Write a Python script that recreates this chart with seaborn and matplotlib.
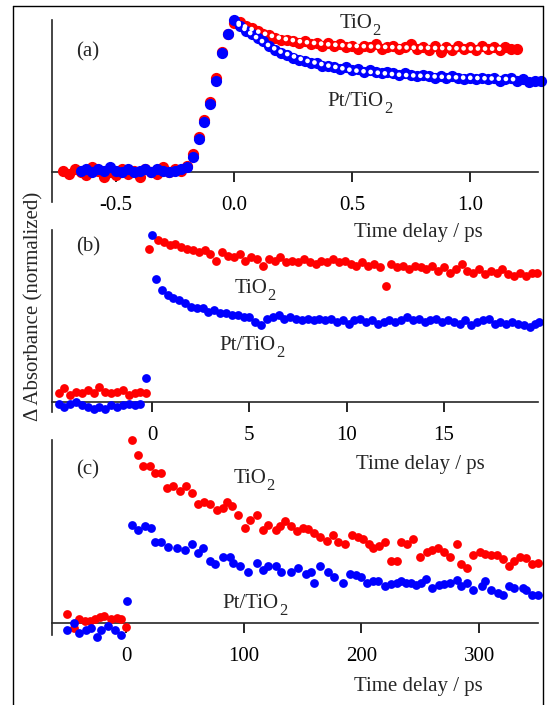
import numpy as np
import pandas as pd
import matplotlib
matplotlib.use("Agg")
import matplotlib.pyplot as plt
import seaborn as sns
from matplotlib.lines import Line2D

# ---- panel (a): sub-ps rise and decay ----
tio2_a_t = [-0.725, -0.7, -0.675, -0.65, -0.625, -0.6, -0.575, -0.55, -0.525, -0.5,
            -0.475, -0.45, -0.425, -0.4, -0.375, -0.35, -0.325, -0.3, -0.275, -0.25,
            -0.225, -0.2, -0.175, -0.15, -0.125, -0.1, -0.075, -0.05, -0.025, 0.0,
            0.025, 0.05, 0.075, 0.1, 0.125, 0.15, 0.175, 0.2, 0.225, 0.25,
            0.275, 0.3, 0.325, 0.35, 0.375, 0.4, 0.425, 0.45, 0.475, 0.5,
            0.525, 0.55, 0.575, 0.6, 0.625, 0.65, 0.675, 0.7, 0.725, 0.75,
            0.775, 0.8, 0.825, 0.85, 0.875, 0.9, 0.925, 0.95, 0.975, 1.0,
            1.025, 1.05, 1.075, 1.1, 1.125, 1.15, 1.175, 1.2]
tio2_a_y = [0.01, -0.01, 0.02, 0.00, -0.02, 0.03, 0.01, -0.03, 0.00, -0.02,
            0.02, -0.01, 0.01, -0.03, 0.02, 0.00, -0.01, 0.03, 0.00, 0.02,
            0.01, 0.04, 0.12, 0.23, 0.34, 0.46, 0.62, 0.79, 0.91, 0.98,
            0.99, 0.96, 0.95, 0.93, 0.91, 0.90, 0.88, 0.87, 0.87, 0.86,
            0.85, 0.86, 0.84, 0.85, 0.83, 0.85, 0.83, 0.84, 0.82, 0.83,
            0.81, 0.83, 0.82, 0.84, 0.81, 0.82, 0.83, 0.81, 0.82, 0.84,
            0.81, 0.82, 0.80, 0.83, 0.79, 0.82, 0.80, 0.83, 0.81, 0.82,
            0.80, 0.83, 0.81, 0.82, 0.80, 0.82, 0.81, 0.81]
pt_a_t = [-0.65, -0.625, -0.6, -0.575, -0.55, -0.525, -0.5, -0.475, -0.45, -0.425,
          -0.4, -0.375, -0.35, -0.325, -0.3, -0.275, -0.25, -0.225,
          -0.2, -0.175, -0.15, -0.125, -0.1, -0.075, -0.05, -0.025, 0.0,
          0.025, 0.05, 0.075, 0.1, 0.125, 0.15, 0.175, 0.2, 0.225, 0.25,
          0.275, 0.3, 0.325, 0.35, 0.375, 0.4, 0.425, 0.45, 0.475, 0.5,
          0.525, 0.55, 0.575, 0.6, 0.625, 0.65, 0.675, 0.7, 0.725, 0.75,
          0.775, 0.8, 0.825, 0.85, 0.875, 0.9, 0.925, 0.95, 0.975, 1.0,
          1.025, 1.05, 1.075, 1.1, 1.125, 1.15, 1.175, 1.2, 1.225, 1.25,
          1.275, 1.3]
pt_a_y = [0.01, 0.02, 0.00, 0.02, 0.01, 0.03, 0.01, 0.00, 0.02, 0.00,
          0.01, 0.02, 0.00, 0.02, 0.01, 0.00, 0.01, 0.02,
          0.03, 0.10, 0.22, 0.33, 0.45, 0.60, 0.78, 0.91, 1.00,
          0.96, 0.93, 0.91, 0.88, 0.86, 0.83, 0.80, 0.78, 0.77, 0.75,
          0.74, 0.73, 0.72, 0.72, 0.70, 0.70, 0.69, 0.68, 0.69, 0.67,
          0.68, 0.66, 0.67, 0.66, 0.65, 0.66, 0.65, 0.64, 0.65, 0.64,
          0.63, 0.64, 0.63, 0.62, 0.63, 0.62, 0.63, 0.62, 0.61, 0.62,
          0.61, 0.62, 0.61, 0.62, 0.60, 0.61, 0.62, 0.60, 0.61, 0.59,
          0.60, 0.60]
# fitted curves (white dotted)
tio2_fit_t = [0.02, 0.05, 0.1, 0.15, 0.2, 0.3, 0.4, 0.5, 0.7, 0.9, 1.15]
tio2_fit_y = [0.98, 0.955, 0.925, 0.90, 0.88, 0.855, 0.84, 0.83, 0.82, 0.815, 0.81]
pt_fit_t = [0.02, 0.05, 0.1, 0.15, 0.2, 0.3, 0.4, 0.5, 0.7, 0.9, 1.2]
pt_fit_y = [0.97, 0.935, 0.88, 0.83, 0.79, 0.735, 0.70, 0.67, 0.64, 0.625, 0.61]

# ---- panel (b): 0-20 ps ----
tio2_b_t = [-4.8, -4.5, -4.2, -3.9, -3.6, -3.3, -3.0, -2.7, -2.4, -2.1, -1.8, -1.5,
            -1.2, -0.9, -0.6, -0.3, -0.15,
            0.3, 0.6, 0.9, 1.2, 1.5, 1.8, 2.1, 2.4, 2.7, 3.0,
            3.3, 3.6, 3.9, 4.2, 4.5, 4.8, 5.1, 5.4, 5.7, 6.0,
            6.3, 6.6, 6.9, 7.2, 7.5, 7.8, 8.1, 8.4, 8.7, 9.0,
            9.3, 9.6, 9.9, 10.2, 10.5, 10.8, 11.1, 11.4, 11.7, 12.0,
            12.3, 12.6, 12.9, 13.2, 13.5, 13.8, 14.1, 14.4, 14.7, 15.0,
            15.3, 15.6, 15.9, 16.2, 16.5, 16.8, 17.1, 17.4, 17.7, 18.0,
            18.3, 18.6, 18.9, 19.2, 19.5, 19.8]
tio2_b_y = [0.05, 0.08, 0.04, 0.06, 0.05, 0.07, 0.05, 0.09, 0.06, 0.05, 0.06, 0.07,
            0.04, 0.05, 0.06, 0.05, 0.90,
            0.95, 0.94, 0.92, 0.93, 0.91, 0.90, 0.89, 0.88, 0.89, 0.87,
            0.83, 0.88, 0.86, 0.85, 0.87, 0.83, 0.85, 0.84, 0.80, 0.84,
            0.83, 0.85, 0.82, 0.83, 0.82, 0.84, 0.82, 0.81, 0.83, 0.82,
            0.84, 0.82, 0.83, 0.81, 0.80, 0.82, 0.80, 0.81, 0.79, 0.68,
            0.81, 0.79, 0.80, 0.78, 0.80, 0.79, 0.78, 0.80, 0.77, 0.79,
            0.76, 0.78, 0.81, 0.77, 0.76, 0.78, 0.75, 0.77, 0.76, 0.78,
            0.75, 0.74, 0.76, 0.74, 0.76, 0.76]
pt_b_t = [-4.8, -4.5, -4.2, -3.9, -3.6, -3.3, -3.0, -2.7, -2.4, -2.1, -1.8, -1.5,
          -1.2, -0.9, -0.6, -0.3,
          0.0, 0.2, 0.5, 0.8, 1.1, 1.4, 1.7, 2.0, 2.3, 2.6,
          2.9, 3.2, 3.5, 3.8, 4.1, 4.4, 4.7, 5.0, 5.3, 5.6,
          5.9, 6.2, 6.5, 6.8, 7.1, 7.4, 7.7, 8.0, 8.3, 8.6,
          8.9, 9.2, 9.5, 9.8, 10.1, 10.4, 10.7, 11.0, 11.3, 11.6,
          11.9, 12.2, 12.5, 12.8, 13.1, 13.4, 13.7, 14.0, 14.3, 14.6,
          14.9, 15.2, 15.5, 15.8, 16.1, 16.4, 16.7, 17.0, 17.3, 17.6,
          17.9, 18.2, 18.5, 18.8, 19.1, 19.4, 19.7, 19.9]
pt_b_y = [-0.01, -0.03, -0.01, 0.00, -0.02, -0.03, -0.04, -0.03, -0.04, -0.02, -0.03, -0.02,
          -0.01, -0.02, -0.01, 0.14,
          0.98, 0.72, 0.66, 0.63, 0.61, 0.60, 0.58, 0.56, 0.55, 0.55,
          0.53, 0.54, 0.52, 0.52, 0.51, 0.51, 0.50, 0.50, 0.47, 0.45,
          0.49, 0.50, 0.51, 0.49, 0.50, 0.49, 0.48, 0.49, 0.48, 0.49,
          0.48, 0.49, 0.47, 0.48, 0.46, 0.48, 0.49, 0.47, 0.48, 0.46,
          0.47, 0.48, 0.47, 0.48, 0.50, 0.48, 0.49, 0.47, 0.48, 0.49,
          0.47, 0.48, 0.47, 0.46, 0.48, 0.45, 0.47, 0.48, 0.49, 0.46,
          0.47, 0.46, 0.47, 0.46, 0.45, 0.44, 0.46, 0.47]

# ---- panel (c): 0-350 ps ----
tio2_c_t = [-50, -44, -40, -35, -31, -26, -22, -19, -13, -8, -4, 0,
            5, 10, 14, 20, 25, 30, 35, 40, 46, 51,
            56, 61, 66, 71, 77, 82, 86, 90, 95, 101,
            105, 111, 116, 121, 127, 131, 135, 140, 145, 150,
            155, 160, 165, 171, 176, 180, 186, 192, 197, 201,
            206, 210, 215, 220, 225, 230, 234, 239, 244, 250,
            256, 260, 265, 270, 275, 281, 285, 290, 295, 301,
            305, 310, 315, 320, 325, 330, 335, 340, 345, 350]
tio2_c_y = [0.05, -0.03, 0.02, 0.01, 0.01, 0.02, 0.03, 0.04, 0.02, 0.025, 0.02, -0.02,
            1.0, 0.92, 0.86, 0.86, 0.82, 0.82, 0.74, 0.75, 0.72, 0.75,
            0.71, 0.65, 0.66, 0.65, 0.62, 0.63, 0.66, 0.64, 0.59, 0.52,
            0.56, 0.59, 0.51, 0.535, 0.51, 0.53, 0.555, 0.53, 0.50, 0.52,
            0.515, 0.49, 0.47, 0.45, 0.48, 0.44, 0.43, 0.48, 0.47, 0.46,
            0.43, 0.41, 0.42, 0.44, 0.34, 0.34, 0.44, 0.43, 0.46, 0.36,
            0.39, 0.40, 0.41, 0.39, 0.36, 0.43, 0.32, 0.30, 0.37, 0.39,
            0.375, 0.37, 0.37, 0.35, 0.31, 0.34, 0.36, 0.355, 0.32, 0.33]
pt_c_t = [-50, -44, -40, -34, -30, -25, -21, -15, -9, -4, 1,
          5, 10, 16, 21, 25, 30, 36, 43, 50, 56,
          61, 65, 71, 76, 82, 88, 91, 97, 104, 111,
          116, 121, 127, 132, 140, 146, 153, 157, 160, 165,
          172, 177, 184, 190, 195, 200, 205, 210, 214, 220,
          225, 230, 234, 238, 242, 246, 251, 255, 260, 266,
          270, 275, 281, 285, 290, 295, 302, 305, 310, 316,
          320, 325, 330, 337, 340, 345, 350]
pt_c_y = [-0.04, 0.0, -0.055, -0.04, -0.03, -0.075, -0.04, -0.015, -0.04, -0.065, 0.12,
          0.535, 0.51, 0.53, 0.52, 0.44, 0.44, 0.415, 0.41, 0.40, 0.43,
          0.38, 0.41, 0.34, 0.32, 0.36, 0.36, 0.33, 0.31, 0.28, 0.33,
          0.29, 0.31, 0.31, 0.28, 0.28, 0.30, 0.27, 0.28, 0.22, 0.31,
          0.28, 0.25, 0.22, 0.27, 0.26, 0.25, 0.22, 0.23, 0.23, 0.20,
          0.215, 0.22, 0.23, 0.22, 0.22, 0.21, 0.22, 0.24, 0.19, 0.21,
          0.215, 0.22, 0.235, 0.20, 0.22, 0.18, 0.20, 0.23, 0.18, 0.165,
          0.155, 0.20, 0.19, 0.19, 0.18, 0.155, 0.155]

ticks_a = [-0.5, 0.0, 0.5, 1.0]
ticklabels_a = ["-0.5", "0.0", "0.5", "1.0"]
ticks_b = [0, 5, 10, 15]
ticks_c = [0, 100, 200, 300]

RED = "#ff0000"
BLUE = "#0000ff"
FS = 15

sns.set_style("ticks")
plt.rcParams["font.family"] = ["Liberation Serif", "DejaVu Serif"]
plt.rcParams["axes.unicode_minus"] = False

W, H = 550, 705
fig = plt.figure(figsize=(W / 100, H / 100), dpi=100)


def add_ax(left, right, top, bottom):
    # pixel box -> figure fraction
    return fig.add_axes([left / W, 1 - bottom / H, (right - left) / W, (bottom - top) / H])


def style(ax, xlim, ylim, ticks, labels=None):
    ax.set_xlim(xlim)
    ax.set_ylim(ylim)
    ax.spines["top"].set_visible(False)
    ax.spines["right"].set_visible(False)
    ax.spines["bottom"].set_position(("data", 0))
    ax.spines["left"].set_linewidth(1.2)
    ax.spines["bottom"].set_linewidth(1.2)
    ax.set_yticks([])
    ax.set_xticks(ticks)
    if labels is not None:
        ax.set_xticklabels(labels)
    ax.tick_params(axis="x", direction="out", length=7, width=1.2, pad=10,
                   labelsize=FS, colors="black")
    ax.set_xlabel("")
    ax.set_ylabel("")
    ax.patch.set_alpha(0)


def dots(ax, t, y, color, s):
    sns.scatterplot(x=t, y=y, color=color, s=s, linewidth=0, ax=ax,
                    zorder=3, clip_on=False, legend=False)


ax_a = add_ax(52, 538, 20, 202)
dots(ax_a, tio2_a_t, tio2_a_y, RED, 65)
dots(ax_a, pt_a_t, pt_a_y, BLUE, 65)
for ft, fy in [(tio2_fit_t, tio2_fit_y), (pt_fit_t, pt_fit_y)]:
    ax_a.plot(ft, fy, color="white", lw=3.4, linestyle=(0, (0.01, 1.5)),
              dash_capstyle="round", zorder=4)
style(ax_a, (-0.771, 1.288), (-0.197, 1.0), ticks_a, ticklabels_a)

ax_b = add_ax(52, 538, 230, 412)
dots(ax_b, tio2_b_t, tio2_b_y, RED, 40)
dots(ax_b, pt_b_t, pt_b_y, BLUE, 40)
style(ax_b, (-5.14, 19.83), (-0.059, 1.01), ticks_b)

ax_c = add_ax(52, 538, 440, 635)
dots(ax_c, tio2_c_t, tio2_c_y, RED, 40)
dots(ax_c, pt_c_t, pt_c_y, BLUE, 40)
style(ax_c, (-62.9, 350.0), (-0.066, 1.0), ticks_c)


def ftext(x, y, s, **kw):
    return fig.text(x / W, 1 - y / H, s, ha="center", va="center", fontsize=FS, **kw)


renderer = fig.canvas.get_renderer()


def chem(x, y, base, sub="2"):
    # main text + large lowered subscript, centred on x; y = middle of capitals
    t1 = fig.text(0, 0, base, fontsize=FS, va="baseline", ha="left")
    t2 = fig.text(0, 0, sub, fontsize=12, va="baseline", ha="left")
    w1 = t1.get_window_extent(renderer).width
    w2 = t2.get_window_extent(renderer).width
    x0 = x - (w1 + w2) / 2
    base_y = y + 7
    t1.set_position((x0 / W, 1 - base_y / H))
    t2.set_position(((x0 + w1) / W, 1 - (base_y + 7) / H))


ftext(88, 52, "(a)")
ftext(88, 247, "(b)")
ftext(88, 470, "(c)")
chem(360, 21, "TiO")
chem(360, 99, "Pt/TiO")
chem(255, 286, "TiO")
chem(252, 343, "Pt/TiO")
chem(254, 476, "TiO")
chem(255, 601, "Pt/TiO")
ftext(418, 232, "Time delay / ps")
ftext(420, 465, "Time delay / ps")
ftext(418, 687, "Time delay / ps")
ftext(34, 306, "\u0394 Absorbance (normalized)", rotation=90)

# outer frame (open at the bottom edge)
for xs, ys in [([13, 13], [6, H + 5]), ([13, 543], [6, 6]), ([543, 543], [6, H + 5])]:
    fig.add_artist(Line2D([x / W for x in xs], [1 - y / H for y in ys],
                          transform=fig.transFigure, color="black", lw=1.0))

fig.savefig("out.png", dpi=100)
